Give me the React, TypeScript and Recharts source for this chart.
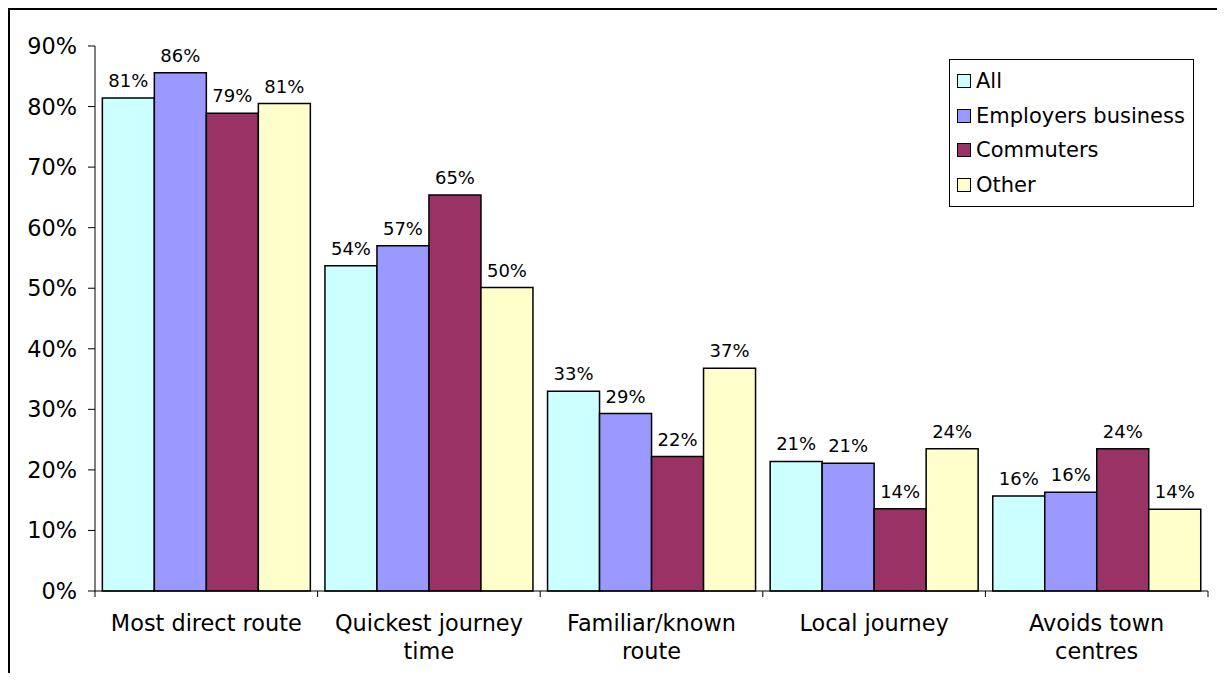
import { Bar, BarChart, LabelList, Legend, XAxis, YAxis } from 'recharts';

const categories = [
  'Most direct route',
  'Quickest journey time',
  'Familiar/known route',
  'Local journey',
  'Avoids town centres',
];

const allValues = [81.4, 53.7, 33.0, 21.4, 15.7];
const employersValues = [85.6, 57.0, 29.3, 21.1, 16.3];
const commutersValues = [78.9, 65.4, 22.2, 13.6, 23.5];
const otherValues = [80.5, 50.1, 36.8, 23.5, 13.5];

const yTicks = [0, 10, 20, 30, 40, 50, 60, 70, 80, 90];

const series = [
  { key: 'all', name: 'All', color: '#CCFFFF', values: allValues },
  { key: 'employers', name: 'Employers business', color: '#9999FF', values: employersValues },
  { key: 'commuters', name: 'Commuters', color: '#993366', values: commutersValues },
  { key: 'other', name: 'Other', color: '#FFFFCC', values: otherValues },
];

const data = categories.map((category, i) => {
  const row: Record<string, string | number> = { category };
  series.forEach((s) => {
    row[s.key] = s.values[i];
  });
  return row;
});

const FONT = '"DejaVu Sans", Verdana, sans-serif';
const AXIS_FONT_SIZE = 22.4;
const CHART_W = 1207;
const CHART_H = 671;
const MARGIN = { top: 36, right: 9, left: 0, bottom: 0 };
const Y_WIDTH = 85;

// split long category names over two lines, like the original
function wrap(text: string, max = 17) {
  const words = text.split(' ');
  const lines: string[] = [];
  let cur = '';
  words.forEach((w) => {
    const next = cur ? `${cur} ${w}` : w;
    if (next.length > max && cur) {
      lines.push(cur);
      cur = w;
    } else {
      cur = next;
    }
  });
  if (cur) lines.push(cur);
  return lines;
}

function CategoryTick(props: any) {
  const { x, y, payload, index } = props;
  const band = (CHART_W - MARGIN.left - MARGIN.right - Y_WIDTH) / categories.length;
  const half = payload?.offset || band / 2;
  const lines = wrap(String(payload.value));
  return (
    <g>
      <line x1={x - half} x2={x - half} y1={y} y2={y + 6} stroke="#000" />
      {index === categories.length - 1 && (
        <line x1={x + half} x2={x + half} y1={y} y2={y + 6} stroke="#000" />
      )}
      {lines.map((line, i) => (
        <text
          key={line}
          x={x}
          y={y + 40 + i * 28}
          textAnchor="middle"
          fontSize={AXIS_FONT_SIZE}
          fontFamily={FONT}
          fill="#000"
        >
          {line}
        </text>
      ))}
    </g>
  );
}

function LegendBox() {
  return (
    <div
      style={{
        border: '1px solid #000',
        background: '#fff',
        padding: '4px 0 4px 7px',
        fontFamily: FONT,
        fontSize: 21,
        boxSizing: 'border-box',
        width: 245,
      }}
    >
      {series.map((s) => (
        <div key={s.key} style={{ display: 'flex', alignItems: 'center', height: 34.5 }}>
          <span
            style={{
              width: 12,
              height: 12,
              border: '1px solid #000',
              background: s.color,
              marginRight: 5,
              flexShrink: 0,
            }}
          />
          <span style={{ color: '#000', whiteSpace: 'nowrap' }}>{s.name}</span>
        </div>
      ))}
    </div>
  );
}

export default function App() {
  return (
    <div
      style={{
        width: 1209,
        height: 673,
        marginBottom: -8,
        borderTop: '2px solid #000',
        borderLeft: '2px solid #000',
        boxSizing: 'border-box',
        background: '#fff',
        overflow: 'hidden',
      }}
    >
      <BarChart
        width={CHART_W}
        height={CHART_H}
        data={data}
        margin={MARGIN}
        barCategoryGap="3.3%"
        barGap={0}
      >
        <XAxis
          dataKey="category"
          height={90}
          interval={0}
          tickSize={0}
          tickMargin={0}
          tickLine={false}
          axisLine={{ stroke: '#000' }}
          tick={<CategoryTick />}
        />
        <XAxis
          dataKey="category"
          xAxisId="top"
          orientation="top"
          height={0}
          tick={false}
          tickLine={false}
          axisLine={{ stroke: '#808080' }}
        />
        <YAxis
          width={Y_WIDTH}
          domain={[0, 90]}
          ticks={yTicks}
          interval={0}
          tickFormatter={(v) => `${v}%`}
          tickSize={7}
          tickMargin={11}
          tickLine={{ stroke: '#000' }}
          axisLine={{ stroke: '#000' }}
          tick={{ fontSize: AXIS_FONT_SIZE, fill: '#000', fontFamily: FONT }}
        />
        <YAxis
          yAxisId="right"
          orientation="right"
          width={0}
          domain={[0, 90]}
          tick={false}
          tickLine={false}
          axisLine={{ stroke: '#808080' }}
        />
        <Legend
          layout="vertical"
          align="center"
          verticalAlign="middle"
          content={<LegendBox />}
          wrapperStyle={{ left: 939, top: 49, width: 245, height: 141 }}
        />
        {series.map((s) => (
          <Bar
            key={s.key}
            dataKey={s.key}
            name={s.name}
            fill={s.color}
            stroke="#000"
            strokeWidth={1.5}
            isAnimationActive={false}
          >
            <LabelList
              dataKey={s.key}
              position="top"
              offset={11}
              formatter={(v: any) => `${Math.round(Number(v))}%`}
              style={{ fontSize: 18, fill: '#000', fontFamily: FONT }}
            />
          </Bar>
        ))}
      </BarChart>
    </div>
  );
}
